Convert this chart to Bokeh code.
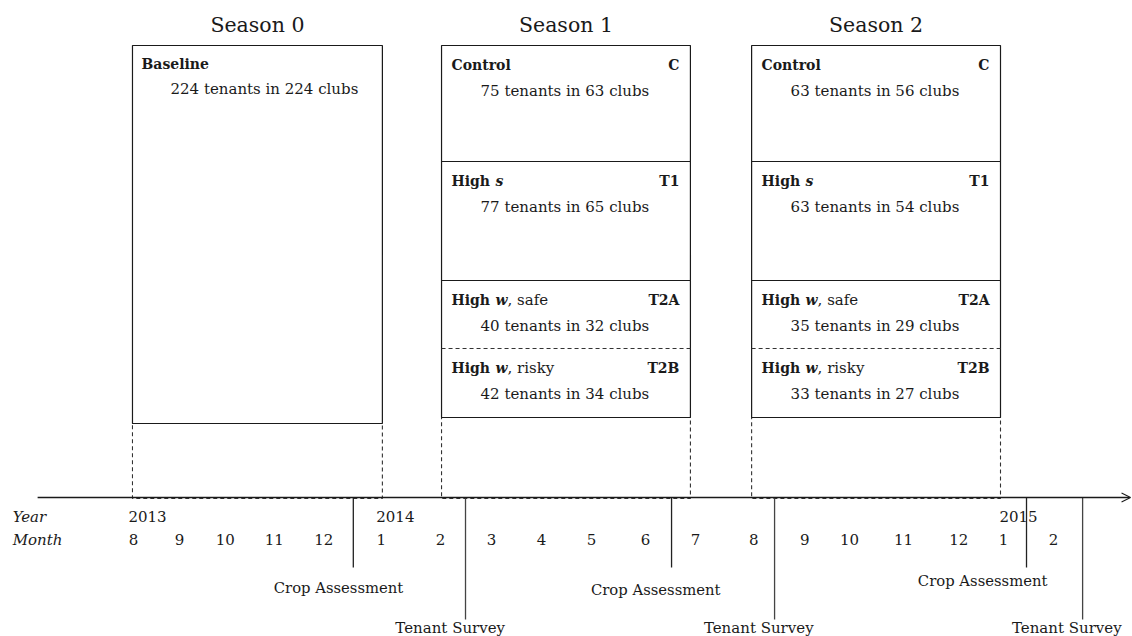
from bokeh.plotting import figure
from bokeh.models import Range1d, Arrow, OpenHead
from bokeh.core.properties import value
from bokeh.embed import file_html
from bokeh.resources import INLINE

# ---------------- data ----------------
season_titles = ["Season 0", "Season 1", "Season 2"]
season_start = [-0.02, 6.04, 12.12]      # months since Aug 2013
season_end = [4.88, 10.92, 17.0]

baseline_label = "Baseline"
baseline_tenants = 224
baseline_clubs = 224

group_word = ["Control", "High", "High", "High"]
group_symbol = ["", "s", "w", "w"]
group_suffix = ["", "", ", safe", ", risky"]
group_code = ["C", "T1", "T2A", "T2B"]
tenants_s1 = [75, 77, 40, 42]
clubs_s1 = [63, 65, 32, 34]
tenants_s2 = [63, 63, 35, 33]
clubs_s2 = [56, 54, 29, 27]

year_labels = ["2013", "2014", "2015"]
year_pos = [-0.1, 4.76, 16.98]
month_labels = ["8", "9", "10", "11", "12", "1", "2", "3", "4", "5", "6",
                "7", "8", "9", "10", "11", "12", "1", "2"]
month_pos = [0.0, 0.90, 1.80, 2.76, 3.73, 4.86, 6.02, 7.02, 8.0, 8.98, 10.04,
             11.02, 12.16, 13.16, 14.04, 15.1, 16.18, 17.06, 18.04]

crop_assessment = [4.31, 10.55, 17.51]
crop_label_pos = [4.02, 10.24, 16.65]
tenant_survey = [6.51, 12.57, 18.61]
survey_label_pos = [6.21, 12.26, 18.30]

# ---------------- layout (pixel rows) ----------------
FONT = "DejaVu Serif"
INK = "#1a1a1a"
TITLE_Y = 24
BOX_TOP = 45
ROW_TOPS = [45, 161, 280, 348]
ROW_BOTTOM = 417
BASE_BOTTOM = 423
AXIS_Y = 497
YEAR_Y = 516
MONTH_Y = 539

p = figure(width=1132, height=636, output_backend="svg", toolbar_location=None,
           x_range=Range1d(-133 / 51, (1132 - 133) / 51), y_range=Range1d(636, 0),
           min_border=0)
p.axis.visible = False
p.xgrid.visible = False
p.ygrid.visible = False
p.outline_line_color = None
p.background_fill_color = "white"
p.border_fill_color = "white"

# dashed extensions from boxes to the time axis
bottoms = [BASE_BOTTOM, ROW_BOTTOM, ROW_BOTTOM]
for s0, s1, b in zip(season_start, season_end, bottoms):
    p.quad(left=s0, right=s1, top=b, bottom=AXIS_Y + 1, fill_color=None,
           line_color="#333333", line_width=1.1, line_dash="4 3")

# season boxes
p.quad(left=season_start[0], right=season_end[0], top=BOX_TOP, bottom=BASE_BOTTOM,
       fill_color=None, line_color=INK, line_width=1.2)
for k in (1, 2):
    s0, s1 = season_start[k], season_end[k]
    for i in range(3):
        top = ROW_TOPS[i]
        bot = ROW_TOPS[i + 1] if i < 2 else ROW_BOTTOM
        p.quad(left=s0, right=s1, top=top, bottom=bot, fill_color=None,
               line_color=INK, line_width=1.2)
    p.segment(x0=s0, x1=s1, y0=ROW_TOPS[3], y1=ROW_TOPS[3], line_color="#333333",
              line_width=1.1, line_dash="4 3")

# season titles
p.text(x=[(a + b) / 2 for a, b in zip(season_start, season_end)], y=[TITLE_Y] * 3,
       text=season_titles, text_font=value(FONT), text_font_size="20.5px",
       text_align="center", text_baseline="middle", text_color=INK)

# baseline box texts
p.text(x=[season_start[0]], y=[BOX_TOP + 18], text=[baseline_label], x_offset=9,
       text_font=value(FONT), text_font_style="bold", text_font_size="14px",
       text_align="left", text_baseline="middle", text_color=INK)
p.text(x=[season_start[0]], y=[BOX_TOP + 43],
       text=[f"{baseline_tenants} tenants in {baseline_clubs} clubs"], x_offset=38,
       text_font=value(FONT), text_font_size="15px",
       text_align="left", text_baseline="middle", text_color=INK)

# treatment rows
for k, tenants, clubs in ((1, tenants_s1, clubs_s1), (2, tenants_s2, clubs_s2)):
    s0, s1 = season_start[k], season_end[k]
    lab_y = [t + 19 for t in ROW_TOPS]
    cnt_y = [t + 45 for t in ROW_TOPS]
    p.text(x=[s0] * 4, y=lab_y, text=group_word, x_offset=10,
           text_font=value(FONT), text_font_style="bold", text_font_size="14px",
           text_align="left", text_baseline="middle", text_color=INK)
    p.text(x=[s0] * 4, y=lab_y, text=group_symbol, x_offset=54,
           text_font=value(FONT), text_font_style="bold italic", text_font_size="14px",
           text_align="left", text_baseline="middle", text_color=INK)
    p.text(x=[s0] * 4, y=lab_y, text=group_suffix, x_offset=66,
           text_font=value(FONT), text_font_size="15px",
           text_align="left", text_baseline="middle", text_color=INK)
    p.text(x=[s1] * 4, y=lab_y, text=group_code, x_offset=-11,
           text_font=value(FONT), text_font_style="bold", text_font_size="14px",
           text_align="right", text_baseline="middle", text_color=INK)
    p.text(x=[s0] * 4, y=cnt_y,
           text=[f"{t} tenants in {c} clubs" for t, c in zip(tenants, clubs)],
           x_offset=39, text_font=value(FONT), text_font_size="15px",
           text_align="left", text_baseline="middle", text_color=INK)

# time axis
p.add_layout(Arrow(end=OpenHead(size=9, line_width=1.1, line_color=INK),
                   x_start=-1.88, y_start=AXIS_Y, x_end=19.55, y_end=AXIS_Y,
                   line_color=INK, line_width=1.3))

# event markers
p.segment(x0=crop_assessment, x1=crop_assessment, y0=[AXIS_Y] * 3, y1=[567] * 3,
          line_color="#222222", line_width=1.3)
p.segment(x0=tenant_survey, x1=tenant_survey, y0=[AXIS_Y] * 3, y1=[619] * 3,
          line_color="#444444", line_width=1.3)
p.text(x=crop_label_pos, y=[587, 589, 580], text=["Crop Assessment"] * 3,
       text_font=value(FONT), text_font_size="14.8px", text_align="center",
       text_baseline="middle", text_color=INK)
p.text(x=survey_label_pos, y=[627] * 3, text=["Tenant Survey"] * 3,
       text_font=value(FONT), text_font_size="15px", text_align="center",
       text_baseline="middle", text_color=INK)

# year / month rows
p.text(x=[-2.37, -2.37], y=[YEAR_Y, MONTH_Y], text=["Year", "Month"],
       text_font=value(FONT), text_font_style="italic", text_font_size="15px",
       text_align="left", text_baseline="middle", text_color=INK)
p.text(x=year_pos, y=[YEAR_Y] * 3, text=year_labels,
       text_font=value(FONT), text_font_size="15px", text_align="left",
       text_baseline="middle", text_color=INK)
p.text(x=month_pos, y=[MONTH_Y] * len(month_pos), text=month_labels,
       text_font=value(FONT), text_font_size="15px", text_align="center",
       text_baseline="middle", text_color=INK)

open("out.html", "w").write(file_html(p, INLINE))
